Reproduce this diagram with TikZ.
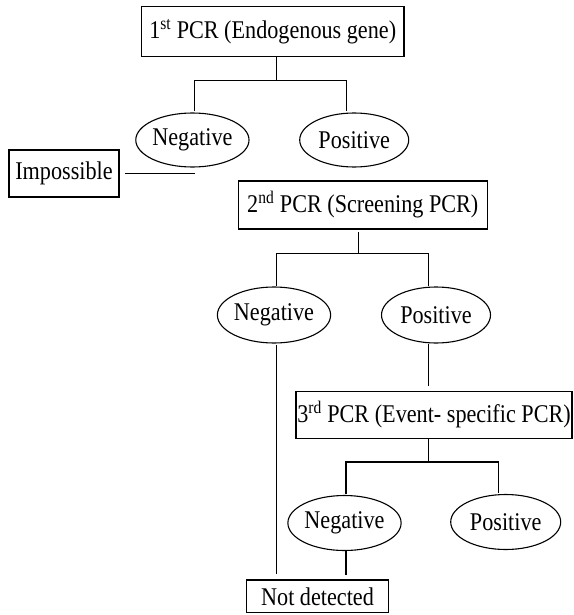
\documentclass[tikz,border=0pt]{standalone}
\usepackage{fontspec}
\setmainfont{Liberation Serif}[FakeStretch=0.87]
\usetikzlibrary{shapes.geometric}
\begin{document}
\begin{tikzpicture}[x=1pt,y=-1pt,
  every node/.style={font=\fontsize{25.5}{29}\selectfont, inner sep=0pt, line width=1.3pt},
  boxnode/.style={draw, rectangle},
  ovalnode/.style={draw, ellipse, line width=1.1pt},
  link/.style={line width=1.3pt}]
\useasboundingbox (0,0) rectangle (573,615);
\node[boxnode, minimum width=262.5pt, minimum height=50pt] (b1) at (272.7,31.7) {1\textsuperscript{st} PCR (Endogenous gene)};
\node[ovalnode, minimum width=112pt, minimum height=54pt] (n1) at (192.4,140) {Negative};
\node[ovalnode, minimum width=109pt, minimum height=54pt] (p1) at (354.2,140) {Positive};
\node[boxnode, minimum width=110pt, minimum height=47pt] (imp) at (64,173.5) {Impossible};
\node[boxnode, minimum width=249pt, minimum height=48pt] (b2) at (362.8,205) {2\textsuperscript{nd} PCR (Screening PCR)};
\node[ovalnode, minimum width=112pt, minimum height=56pt] (n2) at (274,315) {Negative};
\node[ovalnode, minimum width=109pt, minimum height=56pt] (p2) at (436,315) {Positive};
\node[boxnode, minimum width=276pt, minimum height=46.5pt] (b3) at (434,415) {3\textsuperscript{rd} PCR (Event- specific PCR)};
\node[ovalnode, minimum width=112pt, minimum height=55pt] (n3) at (344.5,523) {Negative};
\node[ovalnode, minimum width=110pt, minimum height=55pt] (p3) at (505.7,522) {Positive};
\node[boxnode, minimum width=142pt, minimum height=32.5pt] (nd) at (317.5,596.3) {Not detected};
% tree 1
\draw[link] ([xshift=4pt]b1.south) -- ++(0,23.3) coordinate (h1);
\draw[link] ([xshift=2.4pt,yshift=1pt]n1.north) |- (h1) -| ([xshift=-7.7pt,yshift=1pt]p1.north);
\draw[link, shorten <=5.5pt] (imp.east) -- ([xshift=3pt]n1.south |- imp.east);
% tree 2
\draw[link] ([xshift=-4.3pt,yshift=-2.5pt]b2.south) -- ++(0,21.3) coordinate (h2);
\draw[link] ([xshift=2.7pt]n2.north) |- (h2) -| ([xshift=-7.3pt]p2.north);
\draw[link, shorten >=4.7pt] ([xshift=-7.3pt]p2.south) -- ([xshift=-7.3pt]p2.south |- b3.north);
\draw[link, shorten <=1pt, shorten >=5pt] ([xshift=2.7pt]n2.south) -- ([xshift=2.7pt]n2.south |- nd.north);
% tree 3
\draw[link] ([xshift=-5.3pt]b3.south) -- ++(0,23) coordinate (h3);
\draw[link] ([xshift=1.5pt,yshift=1pt]n3.north) |- (h3) -| ([xshift=-7.4pt,yshift=1pt]p3.north);
\draw[link, shorten >=4.3pt] ([xshift=1.5pt]n3.south) -- ([xshift=1.5pt]n3.south |- nd.north);
\end{tikzpicture}
\end{document}
